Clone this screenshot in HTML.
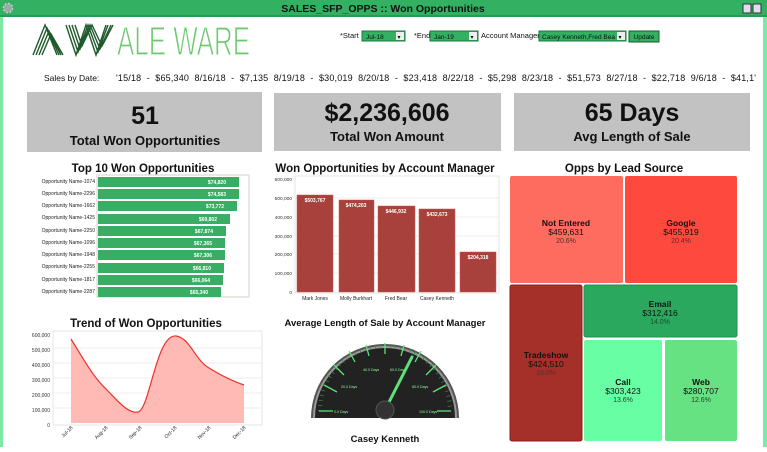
<!DOCTYPE html>
<html><head><meta charset="utf-8"><style>
html,body{margin:0;padding:0;background:#fff;}
body{width:767px;height:447px;overflow:hidden;font-family:"Liberation Sans",sans-serif;}
</style></head><body>
<svg width="767" height="447" viewBox="0 0 767 447" xmlns="http://www.w3.org/2000/svg" font-family="Liberation Sans, sans-serif">
<rect x="0" y="0" width="767" height="447" fill="#fff"/>
<rect x="0" y="0" width="3" height="447" fill="#7ee8a8"/>
<rect x="763" y="0" width="4" height="447" fill="#7ee8a8"/>
<rect x="0" y="0" width="767" height="16" fill="#33b062"/>
<rect x="0" y="15" width="767" height="2" fill="#2a9a52"/>
<circle cx="8" cy="8" r="4.5" fill="#9aa" stroke="#ccc" stroke-width="1.5" stroke-dasharray="2 1.5"/>
<text x="383" y="12" text-anchor="middle" font-size="10.5" font-weight="bold" fill="#111">SALES_SFP_OPPS :: Won Opportunities</text>
<rect x="743" y="4" width="8" height="9" fill="#dde" stroke="#333" stroke-width="1"/>
<rect x="753" y="4" width="8" height="9" fill="#dde" stroke="#333" stroke-width="1"/>
<g stroke="#1f5a2c" stroke-width="1.4" fill="none">
<path d="M33 55 L45 25 L57 55 M36 55 L47 28 L59 55 M39 55 L49 31 L61 55 M42 55 L51 34 L63 55"/>
<path d="M66 25 L76 55 L86 25 L96 55 L106 25 M69 25 L78 52 L88 25 L98 52 L108 25 M72 25 L80 49 L90 25 L100 49 L111 25 M75 25 L82 46 L92 25 L102 46 L113 25"/>
</g>
<text x="117" y="55" font-size="41" fill="#6cc96f" stroke="#fff" stroke-width="1.2" textLength="133" lengthAdjust="spacingAndGlyphs">ALE WARE</text>
<g font-size="7.5" fill="#111">
<text x="340" y="38">*Start</text>
<rect x="362" y="31" width="43" height="10" fill="#33b062" stroke="#1b7a3c"/>
<text x="366" y="39" font-size="6.5">Jul-18</text>
<rect x="396" y="32" width="8" height="8" fill="#eee"/><text x="397.5" y="39" font-size="6">▾</text>
<text x="414" y="38">*End</text>
<rect x="430" y="31" width="48" height="10" fill="#33b062" stroke="#1b7a3c"/>
<text x="434" y="39" font-size="6.5">Jan-19</text>
<rect x="469" y="32" width="8" height="8" fill="#eee"/><text x="470.5" y="39" font-size="6">▾</text>
<text x="481" y="38">Account Manager</text>
<rect x="539" y="31" width="87" height="10" fill="#33b062" stroke="#1b7a3c"/>
<text x="542" y="39" font-size="6.5">Casey Kenneth,Fred Bea</text>
<rect x="617" y="32" width="8" height="8" fill="#eee"/><text x="618.5" y="39" font-size="6">▾</text>
<rect x="629" y="31" width="30" height="11" fill="#33b062" stroke="#1b5a2c"/>
<text x="644" y="39" font-size="6.5" text-anchor="middle">Update</text>
</g>
<text x="44" y="81" font-size="8.5" fill="#111">Sales by Date:</text>
<text x="116" y="81" font-size="9" fill="#111" xml:space="preserve" textLength="640" lengthAdjust="spacing">'15/18  -  $65,340  8/16/18  -  $7,135  8/19/18  -  $30,019  8/20/18  -  $23,418  8/22/18  -  $5,298  8/23/18  -  $51,573  8/27/18  -  $22,718  9/6/18  -  $41,1'</text>
<rect x="27" y="92" width="235" height="60" fill="#c2c2c2"/>
<rect x="274" y="93" width="227" height="58" fill="#c2c2c2"/>
<rect x="514" y="93" width="236" height="58" fill="#c2c2c2"/>
<g font-weight="bold" fill="#111" text-anchor="middle">
<text x="145" y="124" font-size="25">51</text>
<text x="145" y="145" font-size="13">Total Won Opportunities</text>
<text x="387" y="121" font-size="25">$2,236,606</text>
<text x="387" y="141" font-size="13">Total Won Amount</text>
<text x="632" y="121" font-size="25">65 Days</text>
<text x="632" y="141" font-size="13">Avg Length of Sale</text>
</g>
<text x="143" y="172" font-size="11.5" font-weight="bold" text-anchor="middle" fill="#111">Top 10 Won Opportunities</text>
<rect x="97" y="175" width="152" height="122" fill="none" stroke="#e2e2dc" stroke-width="1.5"/>
<g font-size="5" fill="#222" text-anchor="end">
<text x="95" y="183">Opportunity Name-1074</text>
<text x="95" y="195">Opportunity Name-2296</text>
<text x="95" y="207">Opportunity Name-1662</text>
<text x="95" y="219">Opportunity Name-1425</text>
<text x="95" y="232">Opportunity Name-2250</text>
<text x="95" y="244">Opportunity Name-1096</text>
<text x="95" y="256">Opportunity Name-1948</text>
<text x="95" y="268">Opportunity Name-2255</text>
<text x="95" y="281">Opportunity Name-1817</text>
<text x="95" y="293">Opportunity Name-2287</text>
</g>
<g fill="#3aad65">
<rect x="98" y="177" width="141" height="10"/>
<rect x="98" y="189" width="141" height="10"/>
<rect x="98" y="201" width="139" height="10"/>
<rect x="98" y="214" width="132" height="10"/>
<rect x="98" y="226" width="128" height="10"/>
<rect x="98" y="238" width="127" height="10"/>
<rect x="98" y="250" width="127" height="10"/>
<rect x="98" y="263" width="126" height="10"/>
<rect x="98" y="275" width="125" height="10"/>
<rect x="98" y="287" width="123" height="10"/>
</g>
<g font-size="5" fill="#fff" text-anchor="end" font-weight="bold">
<text x="226" y="184">$74,820</text>
<text x="226" y="196">$74,583</text>
<text x="224" y="208">$73,772</text>
<text x="217" y="221">$69,802</text>
<text x="213" y="233">$67,874</text>
<text x="212" y="245">$67,365</text>
<text x="212" y="257">$67,306</text>
<text x="211" y="270">$66,810</text>
<text x="210" y="282">$66,064</text>
<text x="208" y="294">$65,340</text>
</g>
<text x="385" y="172" font-size="11.5" font-weight="bold" text-anchor="middle" fill="#111">Won Opportunities by Account Manager</text>
<rect x="295" y="176" width="204" height="117" fill="none" stroke="#e6e6e0"/>
<g stroke="#eee" stroke-width="1">
<line x1="295" y1="198" x2="499" y2="198"/><line x1="295" y1="217" x2="499" y2="217"/><line x1="295" y1="236" x2="499" y2="236"/><line x1="295" y1="254" x2="499" y2="254"/><line x1="295" y1="273" x2="499" y2="273"/>
</g>
<g font-size="4.8" fill="#333" text-anchor="end">
<text x="292" y="181">600,000</text><text x="292" y="200">500,000</text><text x="292" y="219">400,000</text><text x="292" y="238">300,000</text><text x="292" y="256">200,000</text><text x="292" y="275">100,000</text><text x="292" y="294">0</text>
</g>
<g fill="#a8413b" stroke="#c55" stroke-width="0.5">
<rect x="297" y="195" width="36" height="97"/>
<rect x="339" y="200" width="35" height="92"/>
<rect x="378" y="206" width="37" height="86"/>
<rect x="419" y="209" width="36" height="83"/>
<rect x="460" y="252" width="36" height="40"/>
</g>
<g font-size="5" fill="#fff" font-weight="bold" text-anchor="middle">
<text x="315" y="202">$503,767</text><text x="356" y="207">$474,203</text><text x="396" y="213">$446,932</text><text x="437" y="216">$432,673</text><text x="478" y="259">$204,318</text>
</g>
<g font-size="5" fill="#222" text-anchor="middle">
<text x="315" y="300">Mark Jones</text><text x="356" y="300">Molly Burkhart</text><text x="396" y="300">Fred Bear</text><text x="437" y="300">Casey Kenneth</text>
</g>
<text x="624" y="172" font-size="11.5" font-weight="bold" text-anchor="middle" fill="#111">Opps by Lead Source</text>
<rect x="510" y="176" width="113" height="107" rx="2" fill="#fe6b5f"/>
<rect x="625" y="176" width="112" height="107" rx="2" fill="#fe4a3e"/>
<rect x="510" y="285" width="72" height="156" rx="2" fill="#a5302a" stroke="#8c1d1a"/>
<rect x="584" y="285" width="153" height="52" rx="2" fill="#2aa95e" stroke="#1f9350"/>
<rect x="584" y="340" width="78" height="101" rx="2" fill="#68fea3"/>
<rect x="665" y="340" width="72" height="101" rx="2" fill="#66e282"/>
<g text-anchor="middle" fill="#111">
<text x="566" y="226" font-size="8.5" font-weight="bold">Not Entered</text><text x="566" y="235" font-size="8.5">$459,631</text><text x="566" y="243" font-size="7" fill="#5a2a2a">20.6%</text>
<text x="681" y="226" font-size="8.5" font-weight="bold">Google</text><text x="681" y="235" font-size="8.5">$455,919</text><text x="681" y="243" font-size="7" fill="#5a2a2a">20.4%</text>
<text x="546" y="358" font-size="8.5" font-weight="bold">Tradeshow</text><text x="546" y="367" font-size="8.5">$424,510</text><text x="546" y="375" font-size="7" fill="#5a2a2a">19.0%</text>
<text x="660" y="307" font-size="8.5" font-weight="bold">Email</text><text x="660" y="316" font-size="8.5">$312,416</text><text x="660" y="324" font-size="7" fill="#1a4a2a">14.0%</text>
<text x="623" y="385" font-size="8.5" font-weight="bold">Call</text><text x="623" y="394" font-size="8.5">$303,423</text><text x="623" y="402" font-size="7" fill="#1a4a2a">13.6%</text>
<text x="701" y="385" font-size="8.5" font-weight="bold">Web</text><text x="701" y="394" font-size="8.5">$280,707</text><text x="701" y="402" font-size="7" fill="#1a4a2a">12.6%</text>
</g>
<text x="146" y="327" font-size="11.5" font-weight="bold" text-anchor="middle" fill="#111">Trend of Won Opportunities</text>
<rect x="53" y="331" width="209" height="94" fill="none" stroke="#e6e6e0"/>
<g stroke="#eee"><line x1="53" y1="348" x2="262" y2="348"/><line x1="53" y1="363" x2="262" y2="363"/><line x1="53" y1="378" x2="262" y2="378"/><line x1="53" y1="393" x2="262" y2="393"/><line x1="53" y1="408" x2="262" y2="408"/></g>
<g font-size="5" fill="#333" text-anchor="end">
<text x="50" y="337">600,000</text><text x="50" y="352">500,000</text><text x="50" y="367">400,000</text><text x="50" y="382">300,000</text><text x="50" y="397">200,000</text><text x="50" y="412">100,000</text><text x="50" y="427">0</text>
</g>
<path d="M71 339 C84 360 94 378 106 389 C118 401 128 414 138 412 C150 409 156 334 176 336 C190 338 195 360 209 368 C222 376 232 381 244 385 L244 423 L71 423 Z" fill="#ffbab6"/>
<path d="M71 339 C84 360 94 378 106 389 C118 401 128 414 138 412 C150 409 156 334 176 336 C190 338 195 360 209 368 C222 376 232 381 244 385" fill="none" stroke="#f0302a" stroke-width="1.2"/>
<g font-size="5" fill="#222" text-anchor="end">
<text transform="translate(73,428) rotate(-45)">Jul-18</text>
<text transform="translate(108,428) rotate(-45)">Aug-18</text>
<text transform="translate(142,428) rotate(-45)">Sep-18</text>
<text transform="translate(177,428) rotate(-45)">Oct-18</text>
<text transform="translate(211,428) rotate(-45)">Nov-18</text>
<text transform="translate(246,428) rotate(-45)">Dec-18</text>
</g>
<text x="385" y="326" font-size="9.5" font-weight="bold" text-anchor="middle" fill="#111">Average Length of Sale by Account Manager</text>
<path d="M311 418 A74 74 0 0 1 459 418 Z" fill="#555"/>
<path d="M313 418 A72 72 0 0 1 457 418 Z" fill="#999"/>
<path d="M315 418 A70 70 0 0 1 455 418 Z" fill="#222"/>
<path d="M320 411 A65 65 0 0 1 450 411" fill="none" stroke="#3a8a4a" stroke-width="4" stroke-dasharray="0.7 4.4"/>
<g stroke="#5fe07a" stroke-width="1.3">
<line x1="319" y1="411" x2="333" y2="411"/>
<line x1="324" y1="385" x2="337" y2="392"/>
<line x1="334" y1="365" x2="344" y2="375"/>
<line x1="349" y1="351" x2="355" y2="362"/>
<line x1="366" y1="345" x2="369" y2="356"/>
<line x1="385" y1="343" x2="385" y2="354"/>
<line x1="404" y1="345" x2="401" y2="356"/>
<line x1="421" y1="351" x2="415" y2="362"/>
<line x1="436" y1="365" x2="426" y2="375"/>
<line x1="446" y1="385" x2="433" y2="392"/>
<line x1="451" y1="411" x2="437" y2="411"/>
</g>
<g font-size="3.6" fill="#8ef0a0">
<text x="334" y="413">0.0 Days</text>
<text x="341" y="388">20.0 Days</text>
<text x="363" y="371">40.0 Days</text>
<text x="390" y="371">60.0 Days</text>
<text x="412" y="388">80.0 Days</text>
<text x="419" y="413">100.0 Days</text>
</g>
<line x1="385" y1="410" x2="412" y2="357" stroke="#5fe07a" stroke-width="3" stroke-linecap="round"/>
<circle cx="385" cy="410" r="9" fill="#333" stroke="#555"/>
<text x="385" y="442" font-size="9.5" font-weight="bold" text-anchor="middle" fill="#111">Casey Kenneth</text>
</svg>
</body></html>
